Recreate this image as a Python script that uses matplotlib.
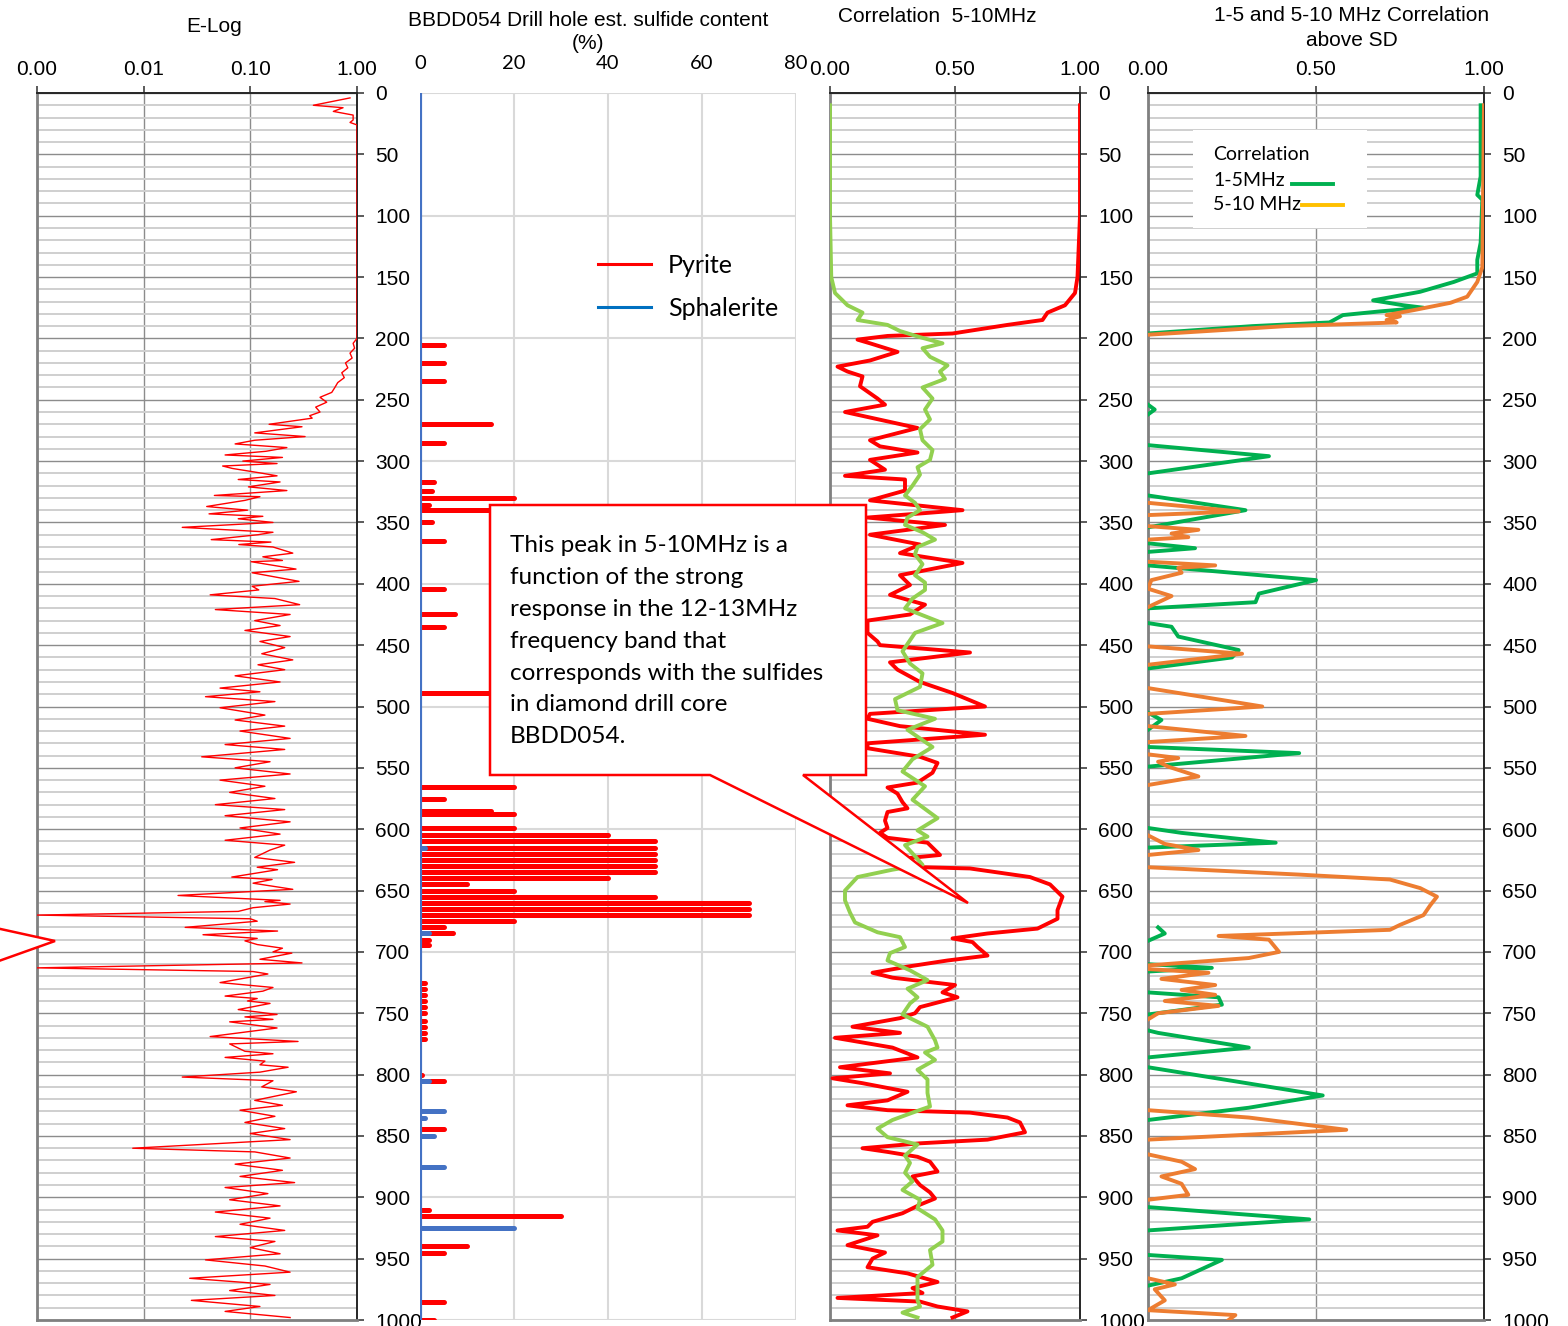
import numpy as np
import matplotlib
matplotlib.use("Agg")
import matplotlib.pyplot as plt
from matplotlib.lines import Line2D
from matplotlib.patches import Polygon, Rectangle
from matplotlib.ticker import NullLocator, FixedLocator

plt.rcParams['font.family'] = ['Liberation Sans', 'DejaVu Sans']
CAL = ['Lato', 'DejaVu Sans']

# ---------------------------------------------------------------- data
# E-Log (relative resistivity, log scale) against depth (m)
elog_depth = [4, 10, 12, 15, 18, 22, 24, 26, 60, 100, 150, 200,
              204, 208, 212, 216, 220, 224, 228, 232, 236, 240, 244, 248, 252, 256, 260, 263,
              265, 270, 272, 277, 280, 283, 286, 289, 292, 295, 297, 300, 302, 304, 306, 310,
              312, 315, 317, 321, 324, 328, 329, 332, 337, 340, 343, 345, 347, 350, 354, 358,
              360, 364, 366, 368, 370, 375, 378, 381, 382, 388, 391, 398, 402, 405, 409, 412,
              417, 421, 425, 430, 434, 438, 443, 447, 452, 457, 462, 466, 470, 475, 480, 485,
              488, 492, 496, 501, 507, 511, 516, 520, 526, 531, 535, 541, 545, 550, 555, 560,
              565, 570, 575, 580, 584, 589, 594, 599, 604, 609, 613,
              617, 623, 627, 631, 633, 639, 641, 644, 649, 654, 658, 659, 661, 664, 667, 670,
              673, 675, 680, 683, 686, 689, 691, 694, 697, 700, 701, 706, 709, 713, 716, 718,
              725, 729, 732, 736, 738, 740, 742, 747, 751, 753, 755, 757, 762, 769, 773, 775,
              781, 783, 786, 789, 792, 794, 798, 802, 805, 810, 814,
              821, 825, 829, 834, 839, 844, 848, 853, 860, 863, 868, 873, 878, 883, 888, 892,
              897, 902, 907, 912, 917, 922, 927, 932, 936, 941, 946, 951, 956, 961, 966, 971,
              976, 980, 984, 989, 993, 998]
elog_value = [0.86, 0.39, 0.74, 0.60, 0.92, 0.92, 0.86, 1.0, 1.0, 1.0, 1.0, 1.0,
              0.92, 0.95, 0.86, 0.90, 0.78, 0.82, 0.72, 0.76, 0.66, 0.62, 0.58, 0.45, 0.52, 0.41, 0.45, 0.36,
              0.38, 0.15, 0.305, 0.11, 0.326, 0.11, 0.072, 0.22, 0.14, 0.058, 0.20, 0.085, 0.178, 0.055, 0.068, 0.131,
              0.178, 0.077, 0.19, 0.096, 0.22, 0.046, 0.123, 0.089, 0.039, 0.094, 0.041, 0.131, 0.077, 0.163, 0.023, 0.163,
              0.118, 0.043, 0.156, 0.078, 0.163, 0.25, 0.131, 0.20, 0.102, 0.268, 0.104, 0.286, 0.104, 0.12, 0.042, 0.17,
              0.29, 0.047, 0.236, 0.11, 0.19, 0.089, 0.236, 0.123, 0.21, 0.128, 0.25, 0.118, 0.21, 0.072, 0.19, 0.052,
              0.123, 0.038, 0.17, 0.052, 0.137, 0.072, 0.21, 0.08, 0.236, 0.058, 0.21, 0.035, 0.153, 0.072, 0.236, 0.052,
              0.137, 0.064, 0.17, 0.047, 0.21, 0.058, 0.236, 0.08, 0.19, 0.058, 0.21,
              0.153, 0.11, 0.26, 0.116, 0.18, 0.067, 0.16, 0.106, 0.25, 0.021, 0.19, 0.137, 0.236, 0.106, 0.077, 0.001,
              0.10, 0.116, 0.0245, 0.18, 0.036, 0.116, 0.089, 0.116, 0.20, 0.163, 0.245, 0.123, 0.305, 0.001, 0.106, 0.146,
              0.052, 0.163, 0.131, 0.058, 0.116, 0.094, 0.153, 0.077, 0.178, 0.089, 0.163, 0.064, 0.178, 0.042, 0.28, 0.064,
              0.089, 0.163, 0.058, 0.137, 0.123, 0.226, 0.123, 0.023, 0.163, 0.128, 0.27,
              0.11, 0.20, 0.08, 0.17, 0.089, 0.21, 0.10, 0.236, 0.0079, 0.11, 0.236, 0.072, 0.20, 0.08, 0.26, 0.058,
              0.146, 0.064, 0.19, 0.047, 0.153, 0.08, 0.21, 0.047, 0.17, 0.10, 0.19, 0.038, 0.137, 0.236, 0.027, 0.153,
              0.064, 0.17, 0.028, 0.123, 0.058, 0.236]

# Estimated sulfide content (%) by depth
pyrite_depth = [205, 220, 235, 270, 285, 317, 324, 330, 336, 340, 350, 365, 404, 425, 435, 489,
                566, 575, 585, 588, 599, 605, 610, 615, 620, 625, 630, 635, 640, 645, 650, 655,
                660, 665, 670, 675, 680, 685, 690, 694,
                725, 730, 735, 740, 745, 750, 756, 761, 766, 771,
                800, 805, 844, 910, 915, 940, 945, 985, 1000]
pyrite_pct = [5, 5, 5, 15, 5, 3, 2.5, 20, 2, 20, 2.5, 5, 5, 7.5, 5, 20,
              20, 5, 15, 20, 20, 40, 50, 50, 50, 50, 50, 50, 40, 10, 20, 50,
              70, 70, 70, 20, 5, 7, 2, 2,
              1, 1, 1, 1, 1, 1, 1, 1, 1, 1,
              0.5, 5, 5, 2, 30, 10, 5, 5, 3]
sphalerite_depth = [615, 685, 805, 830, 835, 850, 875, 925]
sphalerite_pct = [1, 2, 2, 5, 1, 3, 5, 20]

# Correlation 5-10 MHz track
corr_red_depth = [10, 50, 100, 150, 163, 173, 179, 185, 189, 196, 198, 201, 204, 211, 218, 223, 227, 231, 239,
                  249, 254, 260, 273, 283, 288, 293, 299, 307, 312, 315, 324, 332, 340, 346, 352, 360, 368,
                  375, 383, 393, 401, 409, 417, 425, 430, 440, 447, 450, 456, 464, 470, 480, 489, 500, 506,
                  510, 516, 523, 530, 534, 541, 546, 554, 562, 566, 571, 578, 583, 586, 593, 599, 603, 607,
                  611, 621, 624, 631, 632, 639, 645, 655, 666, 673, 681, 685, 689, 692, 696, 703, 707, 712,
                  717, 721, 727, 733, 737, 745, 750, 754, 761, 766, 770, 778, 786, 794, 799, 803, 807, 814,
                  821, 825, 829, 831, 835, 839, 847, 853, 856, 860, 863, 867, 871, 879, 883, 890, 896, 901,
                  906, 913, 920, 924, 927, 931, 939, 945, 950, 957, 962, 969, 974, 978, 982, 985, 989, 993, 998]
corr_red = [1.0, 1.0, 1.0, 0.99, 0.98, 0.94, 0.87, 0.85, 0.71, 0.49, 0.23, 0.11, 0.16, 0.27, 0.16, 0.03, 0.07, 0.13, 0.12,
            0.19, 0.22, 0.06, 0.35, 0.16, 0.20, 0.35, 0.16, 0.22, 0.06, 0.30, 0.30, 0.16, 0.53, 0.15, 0.46, 0.16, 0.36,
            0.28, 0.53, 0.28, 0.32, 0.24, 0.38, 0.32, 0.15, 0.15, 0.19, 0.20, 0.56, 0.24, 0.27, 0.36, 0.49, 0.62, 0.16,
            0.15, 0.28, 0.62, 0.15, 0.15, 0.36, 0.43, 0.41, 0.35, 0.23, 0.27, 0.29, 0.31, 0.23, 0.22, 0.23, 0.20, 0.23,
            0.39, 0.44, 0.29, 0.37, 0.56, 0.80, 0.88, 0.93, 0.91, 0.91, 0.83, 0.63, 0.49, 0.57, 0.59, 0.63, 0.47, 0.31,
            0.17, 0.25, 0.50, 0.45, 0.51, 0.36, 0.34, 0.28, 0.09, 0.28, 0.02, 0.25, 0.35, 0.04, 0.24, 0.01, 0.13, 0.31,
            0.23, 0.07, 0.23, 0.56, 0.71, 0.76, 0.78, 0.63, 0.36, 0.13, 0.23, 0.35, 0.40, 0.43, 0.33, 0.36, 0.40, 0.42,
            0.36, 0.29, 0.17, 0.15, 0.03, 0.19, 0.07, 0.22, 0.17, 0.15, 0.31, 0.43, 0.33, 0.37, 0.03, 0.36, 0.43, 0.55, 0.49]

corr_green_depth = [10, 100, 150, 163, 173, 179, 185, 189, 194, 199, 204, 208, 215, 222, 227, 233, 240, 249,
                    258, 266, 274, 283, 291, 299, 305, 311, 320, 328, 334, 340, 346, 352, 358, 364, 370, 376,
                    384, 393, 399, 405, 412, 420, 432, 440, 455, 465, 473, 484, 494, 503, 510, 519, 533, 543,
                    553, 565, 576, 591, 601, 606, 613, 622, 629, 633, 639, 650, 658, 668, 676, 684, 688, 696,
                    701, 707, 715, 723, 730, 737, 742, 751, 761, 772, 778, 782, 788, 796, 804, 815, 826, 831,
                    837, 844, 851, 857, 866, 872, 880, 887, 894, 902, 909, 918, 927, 936, 943, 955, 965, 974,
                    984, 989, 994, 998]
corr_green = [0.0, 0.0, 0.005, 0.02, 0.07, 0.13, 0.11, 0.23, 0.28, 0.36, 0.45, 0.37, 0.40, 0.47, 0.44, 0.46, 0.37, 0.41,
              0.38, 0.40, 0.36, 0.37, 0.41, 0.40, 0.35, 0.36, 0.33, 0.30, 0.34, 0.36, 0.31, 0.30, 0.37, 0.42, 0.35, 0.34,
              0.37, 0.34, 0.38, 0.38, 0.33, 0.30, 0.45, 0.34, 0.29, 0.32, 0.37, 0.36, 0.26, 0.27, 0.42, 0.31, 0.41, 0.33,
              0.29, 0.38, 0.33, 0.43, 0.35, 0.39, 0.30, 0.34, 0.37, 0.25, 0.11, 0.06, 0.06, 0.08, 0.10, 0.19, 0.28, 0.30,
              0.24, 0.23, 0.32, 0.39, 0.31, 0.35, 0.32, 0.29, 0.39, 0.42, 0.43, 0.38, 0.42, 0.35, 0.39, 0.39, 0.40, 0.33,
              0.25, 0.19, 0.23, 0.35, 0.30, 0.32, 0.30, 0.33, 0.29, 0.36, 0.35, 0.42, 0.45, 0.45, 0.40, 0.41, 0.35, 0.35,
              0.35, 0.36, 0.29, 0.35]

# Correlation above SD: segments separated by gaps (nan) where below SD
nan = np.nan
sd_green_depth = [10, 68, 83, 87, 122, 136, 147, 154, 162, 169, 173, 175, 178, 181, 187, 190, 196, nan,
                  254, 258, 262, nan, 287, 296, 310, nan, 328, 340, 354, nan, 367, 371, 374, nan,
                  385, 397, 408, 415, 420, nan, 432, 435, 443, 454, 460, 469, nan, 505, 511, 519, nan,
                  533, 538, 549, nan, 599, 603, 611, 615, nan, 680, 685, 691, nan, 710, 713, 716, nan,
                  733, 737, 743, 751, nan, 764, 766, 778, 786, nan, 794, 817, 827, 837, nan,
                  908, 918, 927, nan, 947, 951, 966, 972]
sd_green = [0.99, 0.99, 0.98, 0.995, 0.99, 0.98, 0.98, 0.91, 0.81, 0.67, 0.76, 0.82, 0.69, 0.58, 0.54, 0.31, 0.0, nan,
            0.0, 0.02, 0.0, nan, 0.0, 0.36, 0.0, nan, 0.0, 0.29, 0.0, nan, 0.0, 0.14, 0.0, nan,
            0.0, 0.50, 0.33, 0.32, 0.0, nan, 0.0, 0.07, 0.09, 0.27, 0.25, 0.0, nan, 0.0, 0.04, 0.0, nan,
            0.0, 0.45, 0.0, nan, 0.0, 0.10, 0.38, 0.0, nan, 0.03, 0.05, 0.0, nan, 0.0, 0.19, 0.0, nan,
            0.0, 0.21, 0.22, 0.0, nan, 0.0, 0.03, 0.30, 0.0, nan, 0.0, 0.52, 0.30, 0.0, nan,
            0.0, 0.48, 0.0, nan, 0.0, 0.22, 0.10, 0.0]
sd_orange_depth = [10, 142, 154, 158, 166, 171, 177, 181, 182, 185, 187, 190, 197, nan,
                   334, 341, 344, nan, 353, 356, 359, 362, 364, nan,
                   382, 385, 387, 391, 397, 404, 410, 419, nan, 451, 457, 466, nan, 485, 500, 506, nan,
                   516, 524, 529, nan, 539, 542, 545, 549, 557, 564, nan, 605, 612, 617, 621, nan,
                   631, 637, 641, 648, 655, 662, 670, 678, 682, 687, 690, 700, 705, 711, nan,
                   714, 717, 722, 727, 731, 735, 740, 744, 750, 755, nan,
                   829, 835, 845, 853, nan, 865, 871, 877, 883, 889, 898, 902, nan,
                   966, 971, 975, 984, 992, 996, 1000]
sd_orange = [1.0, 0.995, 0.98, 0.97, 0.95, 0.90, 0.79, 0.71, 0.75, 0.71, 0.74, 0.41, 0.0, nan,
             0.0, 0.27, 0.0, nan, 0.0, 0.15, 0.07, 0.12, 0.0, nan,
             0.0, 0.20, 0.09, 0.10, 0.01, 0.0, 0.07, 0.0, nan, 0.0, 0.28, 0.0, nan, 0.0, 0.34, 0.0, nan,
             0.0, 0.29, 0.0, nan, 0.0, 0.09, 0.03, 0.06, 0.15, 0.0, nan, 0.0, 0.05, 0.15, 0.0, nan,
             0.0, 0.45, 0.72, 0.81, 0.86, 0.84, 0.82, 0.75, 0.72, 0.21, 0.36, 0.39, 0.30, 0.0, nan,
             0.0, 0.18, 0.04, 0.20, 0.10, 0.20, 0.05, 0.21, 0.03, 0.0, nan,
             0.0, 0.30, 0.59, 0.0, nan, 0.0, 0.10, 0.14, 0.04, 0.10, 0.12, 0.0, nan,
             0.0, 0.08, 0.02, 0.05, 0.0, 0.26, 0.24]

depth_major = np.arange(0, 1001, 50)
depth_minor = np.arange(0, 1001, 10)

# ---------------------------------------------------------------- figure
W, H = 1568, 1326
fig = plt.figure(figsize=(W / 100, H / 100), dpi=100)


def rect_px(x0, x1, y0, y1):
    return [x0 / W, 1 - y1 / H, (x1 - x0) / W, (y1 - y0) / H]


def to_fig(points):
    return [(x / W, 1 - y / H) for x, y in points]


def depth_track(rect, xlim, xticks, xlabels, xscale='linear'):
    ax = fig.add_axes(rect)
    ax.set_xscale(xscale)
    ax.set_xlim(*xlim)
    ax.set_ylim(1000, 0)
    ax.xaxis.set_major_locator(FixedLocator(xticks))
    ax.xaxis.set_minor_locator(NullLocator())
    ax.set_xticklabels(xlabels)
    ax.xaxis.tick_top()
    ax.yaxis.tick_right()
    ax.set_yticks(depth_major)
    ax.set_yticks(depth_minor, minor=True)
    ax.tick_params(axis='x', which='major', direction='out', length=5, width=1.2,
                   color='#404040', pad=5, labelsize=15)
    ax.tick_params(axis='y', which='major', direction='out', length=5, width=1.2,
                   color='#404040', pad=8, labelsize=15)
    ax.tick_params(axis='y', which='minor', length=0)
    for lab in ax.get_xticklabels() + ax.get_yticklabels():
        lab.set_family(['Liberation Sans', 'DejaVu Sans'])
    ax.grid(axis='y', which='minor', color='#cfcfcf', lw=1.4)
    ax.grid(axis='y', which='major', color='#8c8c8c', lw=1.0)
    ax.grid(axis='x', which='major', color='#8c8c8c', lw=1.0)
    ax.set_axisbelow(True)
    for s in ('left', 'bottom'):
        ax.spines[s].set_color('#808080')
        ax.spines[s].set_linewidth(2.0)
    for s in ('top', 'right'):
        ax.spines[s].set_color('#262626')
        ax.spines[s].set_linewidth(1.4)
    return ax


# E-Log track
ax1 = depth_track(rect_px(37, 357, 93, 1320), (0.001, 1.0), [0.001, 0.01, 0.1, 1.0],
                  ['0.00', '0.01', '0.10', '1.00'], xscale='log')
ax1.plot(elog_value, elog_depth, color='#ff0000', lw=1.0, zorder=3)

# Sulfide content track
ax2 = fig.add_axes(rect_px(420, 796, 93, 1320))
ax2.set_xlim(0, 80)
ax2.set_ylim(1000, 0)
ax2.set_xticks([0, 20, 40, 60, 80])
ax2.set_yticks(np.arange(0, 1001, 100))
ax2.xaxis.tick_top()
ax2.tick_params(axis='x', length=0, pad=15, labelsize=14.5)
ax2.tick_params(axis='y', length=0, labelleft=False)
for lab in ax2.get_xticklabels():
    lab.set_family(CAL)
ax2.grid(True, color='#d9d9d9', lw=1.5)
ax2.set_axisbelow(True)
for s in ax2.spines.values():
    s.set_visible(False)
ax2.hlines(pyrite_depth, 0, pyrite_pct, color='#ff0000', lw=3.6, capstyle='round', zorder=3)
ax2.hlines(sphalerite_depth, 0, sphalerite_pct, color='#4472c4', lw=3.6, capstyle='round', zorder=4)
ax2.axvline(0, color='#4472c4', lw=3, zorder=5)
leg_handles = [Line2D([], [], color='#ff0000', lw=2.2), Line2D([], [], color='#0070c0', lw=2.2)]
ax2.legend(leg_handles, ['Pyrite', 'Sphalerite'], loc='upper left',
           bbox_to_anchor=(598 / W, 1 - 254 / H), bbox_transform=fig.transFigure,
           frameon=False, borderpad=0, borderaxespad=0, handlelength=2.1,
           handletextpad=0.7, labelspacing=0.78, prop={'family': CAL, 'size': 18})

# Correlation 5-10 MHz track
ax3 = depth_track(rect_px(830, 1080, 93, 1320), (0, 1.0), [0, 0.5, 1.0], ['0.00', '0.50', '1.00'])
ax3.plot(corr_red, corr_red_depth, color='#ff0000', lw=2.8, zorder=3, solid_joinstyle='round')
ax3.plot(corr_green, corr_green_depth, color='#92d050', lw=2.8, zorder=3, solid_joinstyle='round')

# Correlation above SD track
ax4 = depth_track(rect_px(1148, 1484, 93, 1320), (0, 1.0), [0, 0.5, 1.0], ['0.00', '0.50', '1.00'])
ax4.plot(sd_green, sd_green_depth, color='#00b050', lw=2.8, zorder=3, solid_joinstyle='round')
ax4.plot(sd_orange, sd_orange_depth, color='#ed7d31', lw=2.8, zorder=3, solid_joinstyle='round')

# Track titles
fig.text(214 / W, 1 - 26 / H, 'E-Log', ha='center', va='center', fontsize=15)
fig.text(588 / W, 1 - 32 / H, 'BBDD054 Drill hole est. sulfide content\n(%)', ha='center',
         va='center', fontsize=15, linespacing=1.3)
fig.text(937 / W, 1 - 17 / H, 'Correlation  5-10MHz', ha='center', va='center', fontsize=15)
fig.text(1352 / W, 1 - 28 / H, '1-5 and 5-10 MHz Correlation\nabove SD', ha='center',
         va='center', fontsize=15, linespacing=1.35)

# Legend box of the correlation-above-SD track
fig.patches.append(Rectangle((1193 / W, 1 - 228 / H), 174 / W, 98 / H, transform=fig.transFigure,
                             facecolor='white', edgecolor='none', zorder=5))
fig.text(1213 / W, 1 - 154 / H, 'Correlation', ha='left', va='center', fontsize=14, family=CAL, zorder=6)
fig.text(1213 / W, 1 - 180 / H, '1-5MHz', ha='left', va='center', fontsize=14, family=CAL, zorder=6)
fig.text(1213 / W, 1 - 205 / H, '5-10 MHz', ha='left', va='center', fontsize=14, family=CAL, zorder=6)
fig.lines.append(Line2D([1292 / W, 1333 / W], [1 - 184 / H, 1 - 184 / H], transform=fig.transFigure,
                        color='#00b050', lw=2.8, zorder=6))
fig.lines.append(Line2D([1302 / W, 1343 / W], [1 - 205 / H, 1 - 205 / H], transform=fig.transFigure,
                        color='#ffc000', lw=2.8, zorder=6))

# Callout on the sulfide / correlation tracks
callout = Polygon(to_fig([(490, 505), (866, 505), (866, 775), (803, 775), (968, 903),
                          (710, 775), (490, 775)]), closed=True, transform=fig.transFigure,
                  facecolor='white', edgecolor='#ff0000', lw=1.8, zorder=7)
fig.patches.append(callout)
fig.text(510 / W, 1 - 535 / H,
         'This peak in 5-10MHz is a\nfunction of the strong\nresponse in the 12-13MHz\n'
         'frequency band that\ncorresponds with the sulfides\nin diamond drill core\nBBDD054.',
         ha='left', va='top', fontsize=17.5, family=CAL, linespacing=1.64, zorder=8)

# Callout pointer entering the E-Log track from the left
pointer = Polygon(to_fig([(-4, 928), (55, 941), (-4, 962)]), closed=True, transform=fig.transFigure,
                  facecolor='white', edgecolor='#ff0000', lw=1.8, zorder=7)
fig.patches.append(pointer)

fig.savefig('out.png', dpi=100)
